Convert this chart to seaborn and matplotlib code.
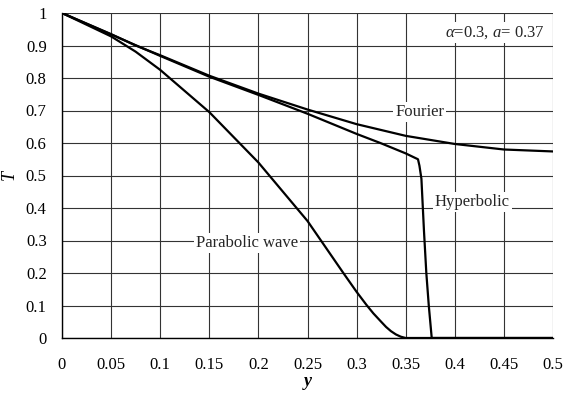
import matplotlib
matplotlib.use("Agg")
import matplotlib.pyplot as plt
import seaborn as sns
import pandas as pd

sns.set_theme(style="white")
plt.rcParams['font.family'] = ['Liberation Serif', 'DejaVu Serif']
plt.rcParams['mathtext.fontset'] = 'custom'
plt.rcParams['mathtext.rm'] = 'Liberation Serif'
plt.rcParams['mathtext.it'] = 'Liberation Serif:italic'

fourier_y = [0.0, 0.05, 0.075, 0.1, 0.15, 0.2, 0.25, 0.3, 0.325, 0.35, 0.4, 0.45, 0.5]
fourier_T = [1.0, 0.935, 0.900, 0.870, 0.807, 0.752, 0.703, 0.658, 0.640, 0.622, 0.597, 0.580, 0.574]

hyper_y = [0.0, 0.05, 0.1, 0.15, 0.2, 0.25, 0.3, 0.325, 0.35, 0.359, 0.3625, 0.364,
           0.366, 0.3686, 0.371, 0.3735, 0.3765, 0.5]
hyper_T = [1.0, 0.934, 0.868, 0.804, 0.748, 0.690, 0.628, 0.599, 0.568, 0.555, 0.550, 0.530,
           0.490, 0.330, 0.200, 0.100, 0.0, 0.0]

parab_y = [0.0, 0.05, 0.075, 0.1, 0.15, 0.2, 0.25, 0.2865, 0.3, 0.31, 0.317, 0.325, 0.33,
           0.335, 0.34, 0.345, 0.35, 0.5]
parab_T = [1.0, 0.928, 0.881, 0.825, 0.695, 0.540, 0.360, 0.200, 0.142, 0.102, 0.076, 0.050,
           0.034, 0.021, 0.011, 0.004, 0.0, 0.0]

x_ticks = [0, 0.05, 0.1, 0.15, 0.2, 0.25, 0.3, 0.35, 0.4, 0.45, 0.5]
x_tick_labels = ["0", "0.05", "0.1", "0.15", "0.2", "0.25", "0.3", "0.35", "0.4", "0.45", "0.5"]
y_ticks = [0, 0.1, 0.2, 0.3, 0.4, 0.5, 0.6, 0.7, 0.8, 0.9, 1.0]
y_tick_labels = ["0", "0.1", "0.2", "0.3", "0.4", "0.5", "0.6", "0.7", "0.8", "0.9", "1"]

fig = plt.figure(figsize=(5.64, 3.96), dpi=100)
ax = fig.add_axes([62/564, 1 - 338/396, (553 - 62)/564, (338 - 13)/396])

for xs, ts in [(fourier_y, fourier_T), (hyper_y, hyper_T), (parab_y, parab_T)]:
    df = pd.DataFrame({"y": xs, "T": ts})
    sns.lineplot(data=df, x="y", y="T", ax=ax, color="black", linewidth=1.6,
                 sort=False, estimator=None, zorder=3)

ax.set_xlim(0, 0.5)
ax.set_ylim(0, 1)
ax.set_xticks(x_ticks)
ax.set_xticklabels(x_tick_labels)
ax.set_yticks(y_ticks)
ax.set_yticklabels(y_tick_labels)
ax.grid(True, color="#333333", linewidth=0.8, zorder=1)
ax.set_axisbelow(True)
for s in ["top", "right"]:
    ax.spines[s].set_visible(False)
for s in ["left", "bottom"]:
    ax.spines[s].set_color("black")
    ax.spines[s].set_linewidth(1.0)
ax.tick_params(axis="both", direction="out", length=5, width=0.8, color="black",
               labelsize=12, labelcolor="black", pad=6)
ax.tick_params(axis="x", pad=9)

ax.set_xlabel("y", fontsize=13, color="black", labelpad=0,
              fontstyle="italic", fontweight="bold")
ax.set_ylabel("T", fontsize=13, color="black", labelpad=6, fontstyle="italic")

box = dict(facecolor="white", edgecolor="none", pad=1.5)
fs = 12
ax.text(0.3645, 0.695, "Fourier", ha="center", va="center", fontsize=fs, bbox=box, zorder=4)
ax.text(0.418, 0.417, "Hyperbolic", ha="center", va="center", fontsize=fs, bbox=box, zorder=4)
ax.text(0.188, 0.291, "Parabolic wave", ha="center", va="center", fontsize=fs, bbox=box, zorder=4)
ax.text(0.4915, 0.94, "$\\alpha$=0.3, $\\mathit{a}$= 0.37", ha="right", va="center",
        fontsize=fs, bbox=box, zorder=4)

fig.savefig("out.png", dpi=100, facecolor="white")
